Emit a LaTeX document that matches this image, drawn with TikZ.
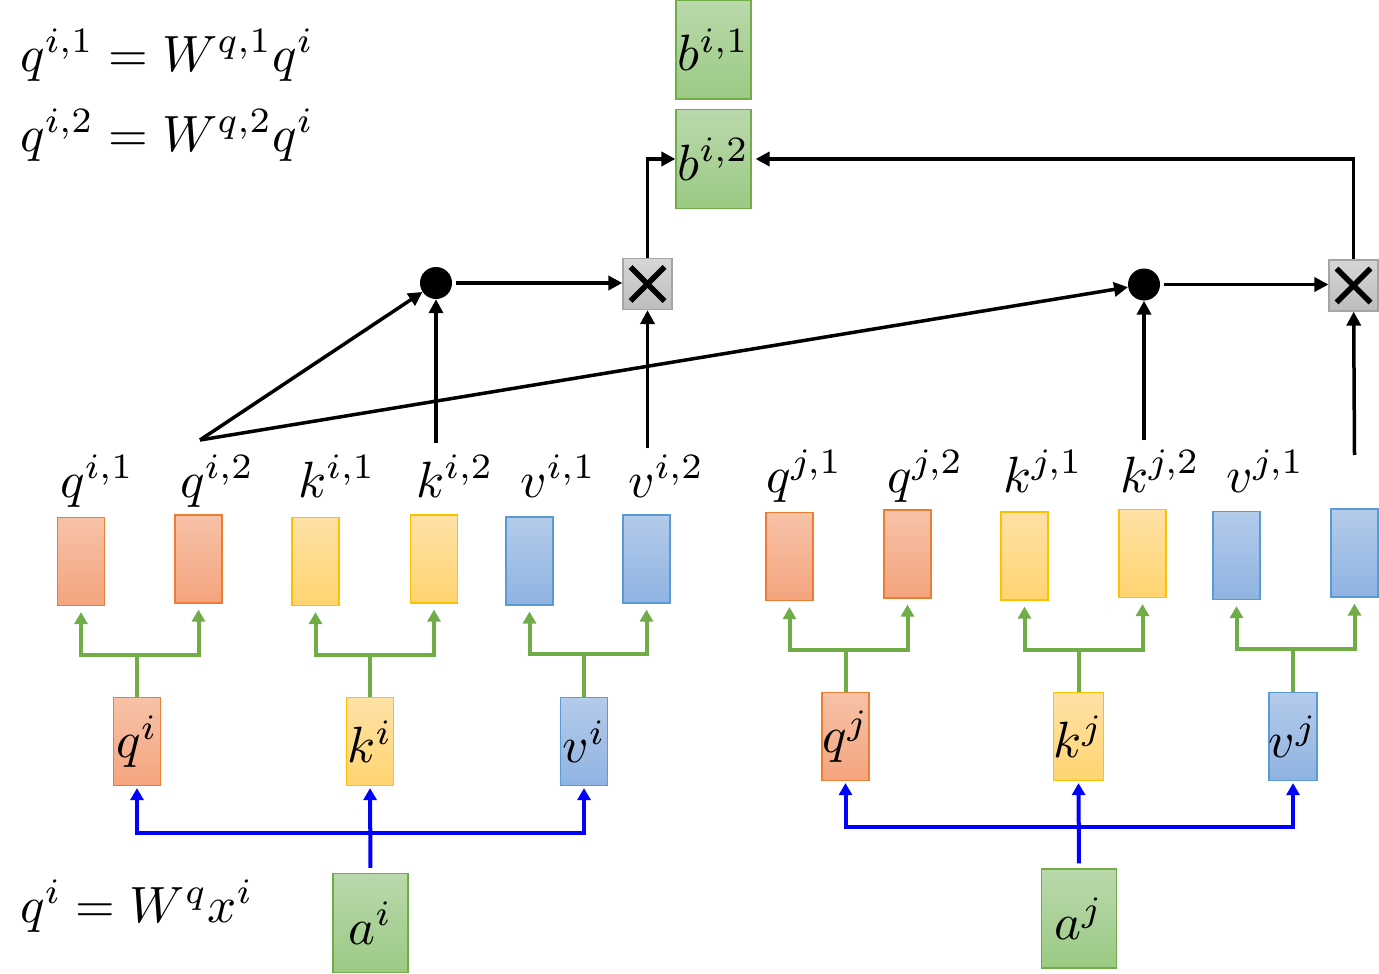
\documentclass[tikz,border=0pt]{standalone}
\usepackage{graphicx}
\usetikzlibrary{arrows.meta}
\definecolor{orT}{HTML}{F7C2A8}
\definecolor{orB}{HTML}{F4A47E}
\definecolor{orD}{HTML}{ED7D31}
\definecolor{yeT}{HTML}{FFE1A6}
\definecolor{yeB}{HTML}{FFD470}
\definecolor{yeD}{HTML}{FFC000}
\definecolor{blT}{HTML}{B4CBEA}
\definecolor{blB}{HTML}{8FB3E2}
\definecolor{blD}{HTML}{5B9BD5}
\definecolor{gnT}{HTML}{BAD8AC}
\definecolor{gnB}{HTML}{9BCA84}
\definecolor{gnD}{HTML}{70AD47}
\definecolor{gyT}{HTML}{D6D6D6}
\definecolor{gyB}{HTML}{BDBDBD}
\definecolor{gyD}{HTML}{A5A5A5}
\newcommand{\Mth}[1]{\scalebox{5.1}{$#1$}}
\tikzset{
  vecbox/.style={rectangle, draw, line width=1.2pt, minimum width=47pt, minimum height=88pt, inner sep=0pt},
  qbox/.style={vecbox, draw=orD, top color=orT, bottom color=orB},
  kbox/.style={vecbox, draw=yeD, top color=yeT, bottom color=yeB},
  vbox/.style={vecbox, draw=blD, top color=blT, bottom color=blB},
  gbox/.style={vecbox, draw=gnD, top color=gnT, bottom color=gnB, minimum width=75pt, minimum height=99pt},
  xbox/.style={rectangle, draw=gyD, line width=1.2pt, top color=gyT, bottom color=gyB, minimum width=49pt, minimum height=51pt, inner sep=0pt},
  dotnode/.style={circle, fill=black, minimum size=32pt, inner sep=0pt},
  lab/.style={inner sep=0pt, anchor=base west},
  bk/.style={line width=3.5pt, -{Triangle[length=14pt,width=14pt]}},
  gr/.style={draw=gnD, line width=4pt, -{Triangle[length=12pt,width=13pt]}, shorten >=6pt},
  bl/.style={draw=blue, line width=4pt, -{Triangle[length=12pt,width=13pt]}, shorten >=2pt},
}
\begin{document}
\begin{tikzpicture}[x=1pt,y=-1pt]
\useasboundingbox (0,0) rectangle (1379,974);
% formulas
\node[lab] (f1) at (20,71) {\Mth{q^{i,1}=W^{q,1}q^i}};
\node[lab] (f2) at (20,151) {\Mth{q^{i,2}=W^{q,2}q^i}};
\node[lab] (f3) at (20,922) {\Mth{q^i=W^q x^i}};
% top row boxes
\node[qbox] (qi1) at (81,561.5) {};
\node[qbox] (qi2) at (198.5,559) {};
\node[kbox] (ki1) at (315.5,561.5) {};
\node[kbox] (ki2) at (434,559) {};
\node[vbox] (vi1) at (529.5,561) {};
\node[vbox] (vi2) at (646.5,559) {};
\node[qbox] (qj1) at (789.5,556.5) {};
\node[qbox] (qj2) at (907.5,554) {};
\node[kbox] (kj1) at (1024.5,556) {};
\node[kbox] (kj2) at (1142.5,553.5) {};
\node[vbox] (vj1) at (1236.5,555.5) {};
\node[vbox] (vj2) at (1354.5,553) {};
% labels
\node[lab] (lqi1) at (60,497) {\Mth{q^{i,1}}};
\node[lab] (lqi2) at (180,497) {\Mth{q^{i,2}}};
\node[lab] (lki1) at (298,497) {\Mth{k^{i,1}}};
\node[lab] (lki2) at (416,497) {\Mth{k^{i,2}}};
\node[lab] (lvi1) at (520,497) {\Mth{v^{i,1}}};
\node[lab] (lvi2) at (628,497) {\Mth{v^{i,2}}};
\node[lab] (lqj1) at (766,492) {\Mth{q^{j,1}}};
\node[lab] (lqj2) at (887,492) {\Mth{q^{j,2}}};
\node[lab] (lkj1) at (1003,492) {\Mth{k^{j,1}}};
\node[lab] (lkj2) at (1120,492) {\Mth{k^{j,2}}};
\node[lab] (lvj1) at (1226,492) {\Mth{v^{j,1}}};
% middle row
\node[qbox] (qi) at (137,741.5) {\Mth{q^i}};
\node[kbox] (ki) at (370,741.5) {\Mth{k^i}};
\node[vbox] (vi) at (584,741.5) {\Mth{v^i}};
\node[qbox] (qj) at (845.5,736.5) {\Mth{q^j}};
\node[kbox] (kj) at (1078.5,736.5) {\Mth{k^j}};
\node[vbox] (vj) at (1293,736.5) {\Mth{v^j}};
% inputs
\node[gbox] (ai) at (370.5,923) {\Mth{a^i}};
\node[gbox] (aj) at (1079,918.5) {\Mth{a^j}};
% outputs
\node[gbox] (bi1) at (713.5,49.5) {\Mth{b^{i,1}}};
\node[gbox] (bi2) at (713.5,159) {\Mth{b^{i,2}}};
% dots and products
\node[dotnode] (d1) at (436,283) {};
\node[dotnode] (d2) at (1144,284.5) {};
\node[xbox] (x1) at (647.5,284) {};
\node[xbox] (x2) at (1353.5,285.5) {};
\foreach \n in {x1,x2}{
  \draw[line width=5.5pt] (\n.center) ++(-17,-17) -- ++(34,34);
  \draw[line width=5.5pt] (\n.center) ++(17,-17) -- ++(-34,34);
}
% green trees
\foreach \s/\a/\b/\y in {qi/qi1/qi2/655, ki/ki1/ki2/655, vi/vi1/vi2/654, qj/qj1/qj2/650, kj/kj1/kj2/650, vj/vj1/vj2/649}{
  \draw[gr] (\s.north) -- (\s.north |- 0,\y) -| (\a.south);
  \draw[gr] (\s.north) -- (\s.north |- 0,\y) -| (\b.south);
}
% blue trees
\coordinate (bai) at (370.5,833);
\coordinate (baj) at (1079,827);
\draw[bl, shorten <=5pt] (ai.north) -- (ki.south);
\draw[bl] (bai) -| (qi.south);
\draw[bl] (bai) -| (vi.south);
\draw[bl, shorten <=5pt] (aj.north) -- (kj.south);
\draw[bl] (baj) -| (qj.south);
\draw[bl] (baj) -| (vj.south);
% black connectors
\coordinate (sq) at (200,440);
\coordinate (sk1) at (436,443);
\coordinate (sv1) at (647.5,448);
\coordinate (sk2) at (1144,440);
\coordinate (sv2) at (1354.5,455);
\draw[bk] (sq) -- (d1);
\draw[bk] (sq) -- (d2);
\draw[bk] (sk1) -- (d1);
\draw[bk] (sv1) -- (x1);
\draw[bk] (sk2) -- (d2);
\draw[bk] (sv2) -- (x2);
\draw[bk, shorten <=4pt] (d1.east) -- (d1.east -| x1.west);
\draw[bk, shorten <=4pt] (d2.east) -- (d2.east -| x2.west);
\draw[bk] (x1.north) |- (bi2.west);
\draw[bk, shorten >=4pt] (x2.north) |- (bi2.east);
\end{tikzpicture}
\end{document}
